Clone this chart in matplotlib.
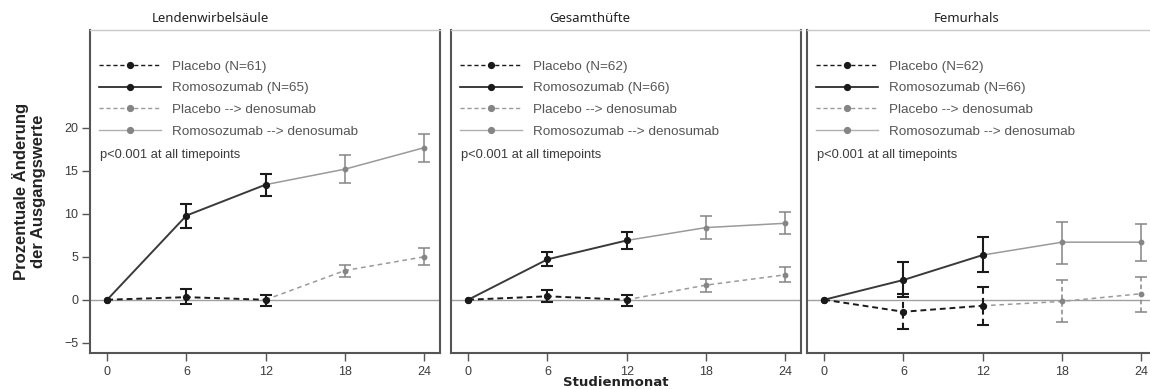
import matplotlib
matplotlib.use("Agg")
import matplotlib.pyplot as plt
from matplotlib.lines import Line2D

# Data (% change from baseline)
months = [0, 6, 12, 18, 24]
panel_titles = ["Lendenwirbelsäule", "Gesamthüfte", "Femurhals"]
placebo_n = [61, 62, 62]
romo_n = [65, 66, 66]

placebo_mean = [[0, 0.3, 0.0, 3.4, 5.0],
                [0, 0.4, 0.0, 1.7, 2.9],
                [0, -1.4, -0.7, -0.2, 0.7]]
placebo_lo = [[0, -0.5, -0.7, 2.6, 4.1],
              [0, -0.3, -0.7, 0.9, 2.1],
              [0, -3.4, -2.9, -2.6, -1.4]]
placebo_hi = [[0, 1.2, 0.6, 4.0, 6.0],
              [0, 1.1, 0.6, 2.4, 3.8],
              [0, 0.7, 1.5, 2.3, 2.7]]

romo_mean = [[0, 9.8, 13.4, 15.2, 17.7],
             [0, 4.7, 6.9, 8.4, 8.9],
             [0, 2.3, 5.2, 6.7, 6.7]]
romo_lo = [[0, 8.4, 12.1, 13.6, 16.0],
           [0, 3.9, 5.9, 7.1, 7.6],
           [0, 0.3, 3.2, 4.2, 4.5]]
romo_hi = [[0, 11.2, 14.6, 16.9, 19.3],
           [0, 5.6, 7.9, 9.8, 10.2],
           [0, 4.4, 7.3, 9.1, 8.8]]

# dashed error bars only where the original shows them dashed
dashed_err = [False, False, True]

BLACK = "#1a1a1a"
DARK = "#3a3a3a"
GRAY = "#9a9a9a"
GRAY_MK = "#858585"
TXT = "#3c3c3c"

W, H = 1150, 389
fig = plt.figure(figsize=(W / 100, H / 100), dpi=100)

lefts = [90, 451, 807]
width = 350
bottom, top = 353, 30


def draw_series(ax, mean, lo, hi, ls, panel, lw_main):
    x_a, x_b = months[:3], months[2:]
    m_a, m_b = mean[:3], mean[2:]
    # treatment phase (black), then denosumab phase (gray)
    ax.plot(x_b, m_b, ls=ls, color=GRAY, lw=1.1, marker="o", ms=3.2,
            mfc=GRAY_MK, mec=GRAY_MK, markevery=[1, 2], zorder=3,
            dashes=(3, 2.5) if ls == "--" else (None, None))
    ax.plot(x_a, m_a, ls=ls, color=DARK if ls == "-" else BLACK, lw=lw_main,
            marker="o", ms=4.2, mfc=BLACK, mec=BLACK, zorder=4,
            dashes=(3, 2) if ls == "--" else (None, None))
    err_ls = "--" if (ls == "--" and dashed_err[panel]) else "-"
    for i in range(1, 5):
        col = BLACK if i <= 2 else GRAY_MK
        lw = 1.5 if i <= 2 else 1.1
        e = ax.errorbar(months[i], mean[i],
                        yerr=[[mean[i] - lo[i]], [hi[i] - mean[i]]],
                        fmt="none", ecolor=col, elinewidth=lw,
                        capsize=4.5, capthick=lw, zorder=5)
        if err_ls == "--":
            e[2][0].set_linestyle((0, (3, 2)))


for p in range(3):
    ax = fig.add_axes([lefts[p] / W, 1 - bottom / H, width / W, (bottom - top) / H])
    ax.set_xlim(-1.3, 25.2)
    ax.set_ylim(-6.2, 31.4)
    ax.axhline(0, color="#a0a0a0", lw=1.0, zorder=1)

    draw_series(ax, romo_mean[p], romo_lo[p], romo_hi[p], "-", p, 1.4)
    draw_series(ax, placebo_mean[p], placebo_lo[p], placebo_hi[p], "--", p, 1.4)

    ax.set_xticks(months)
    ax.set_yticks([-5, 0, 5, 10, 15, 20])
    ax.tick_params(direction="out", length=5.5, width=1.0, color="#555555",
                   labelcolor=TXT, labelsize=9)
    ax.tick_params(axis="x", pad=4)
    ax.tick_params(axis="y", pad=3)
    if p > 0:
        ax.tick_params(axis="y", left=False, labelleft=False)
    for s in ("left", "bottom", "right"):
        ax.spines[s].set_color("#555555")
        ax.spines[s].set_linewidth(1.5)
    ax.spines["top"].set_color("#c8c8c8")
    ax.spines["top"].set_linewidth(1.0)
    for lab in ax.get_xticklabels() + ax.get_yticklabels():
        lab.set_family("Liberation Sans")

    handles = [
        Line2D([], [], ls="--", color=BLACK, lw=1.0, marker="o", ms=4.2, dashes=(3, 2)),
        Line2D([], [], ls="-", color=BLACK, lw=1.2, marker="o", ms=4.2),
        Line2D([], [], ls="--", color=GRAY, lw=1.0, marker="o", ms=4.2,
               mfc=GRAY_MK, mec=GRAY_MK, dashes=(3, 2)),
        Line2D([], [], ls="-", color="#b0b0b0", lw=1.0, marker="o", ms=4.2,
               mfc=GRAY_MK, mec=GRAY_MK),
    ]
    labels = [f"Placebo (N={placebo_n[p]})", f"Romosozumab (N={romo_n[p]})",
              "Placebo --> denosumab", "Romosozumab --> denosumab"]
    leg = ax.legend(handles, labels, loc="upper left", bbox_to_anchor=(0.0, 0.935),
                    frameon=False, numpoints=1, handlelength=4.6, handletextpad=0.8,
                    labelspacing=0.68, borderaxespad=0.3,
                    prop={"family": "Liberation Sans", "size": 9.7})
    for t in leg.get_texts():
        t.set_color("#555555")

    ax.text(0.028, 0.613, "p<0.001 at all timepoints", transform=ax.transAxes,
            ha="left", va="center", fontsize=9.3, color=TXT, family="Liberation Sans")

title_x = [210, 590, 967]
for p in range(3):
    fig.text(title_x[p] / W, 1 - 18 / H, panel_titles[p], ha="center", va="center",
             fontsize=9.5, color="#222222", family="Noto Sans")

fig.text(29 / W, 1 - 191 / H, "Prozentuale Änderung\nder Ausgangswerte", rotation=90,
         ha="center", va="center", fontsize=12, fontweight="bold", color="#222222",
         family="Liberation Sans", linespacing=1.15)
fig.text(616 / W, 1 - 383 / H, "Studienmonat", ha="center", va="center",
         fontsize=9.5, fontweight="bold", color="#222222", family="DejaVu Sans")

fig.savefig("out.png", dpi=100, facecolor="white")
